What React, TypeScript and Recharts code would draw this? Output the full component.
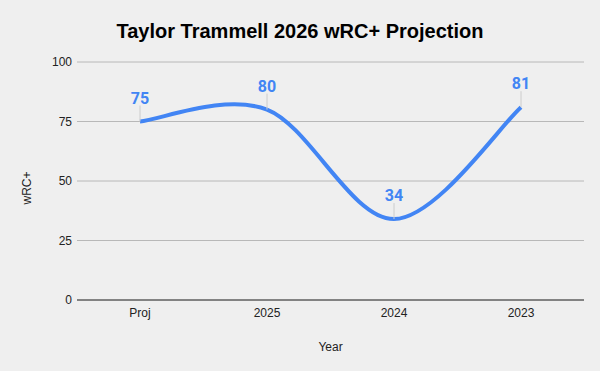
import React from 'react';
import { LineChart, Line, XAxis, YAxis, CartesianGrid } from 'recharts';

const categories = ['Proj', '2025', '2024', '2023'];
const wrcValues = [75, 80, 34, 81];
const yTicks = [0, 25, 50, 75, 100];

const data = categories.map((year, i) => ({ year, wrc: wrcValues[i] }));

const BLUE = '#4285f4';

// Cardinal (Catmull-Rom, tension 0) curve factory, similar to Google Sheets smoothing
const cardinalCurve = (context: any) => {
  let pts: number[][] = [];
  return {
    areaStart() {},
    areaEnd() {},
    lineStart() {
      pts = [];
    },
    point(x: number, y: number) {
      pts.push([+x, +y]);
    },
    lineEnd() {
      if (!pts.length) return;
      context.moveTo(pts[0][0], pts[0][1]);
      for (let i = 0; i < pts.length - 1; i++) {
        const p0 = pts[i - 1] || pts[i];
        const p1 = pts[i];
        const p2 = pts[i + 1];
        const p3 = pts[i + 2] || pts[i + 1];
        const c1x = p1[0] + (p2[0] - p0[0]) / 6;
        const c1y = p1[1] + (p2[1] - p0[1]) / 6;
        const c2x = p2[0] - (p3[0] - p1[0]) / 6;
        const c2y = p2[1] - (p3[1] - p1[1]) / 6;
        context.bezierCurveTo(c1x, c1y, c2x, c2y, p2[0], p2[1]);
      }
    },
  };
};

const PointLabel = (props: any) => {
  const { x, y, value } = props;
  return (
    <g>
      <line x1={x} y1={y - 16} x2={x} y2={y} stroke="#cccccc" strokeWidth={1} />
      <text
        x={x}
        y={y - 18}
        textAnchor="middle"
        fill={BLUE}
        fontFamily="Roboto, sans-serif"
        fontWeight="bold"
        fontSize={16}
      >
        {value}
      </text>
    </g>
  );
};

export default function App() {
  return (
    <div style={{ position: 'absolute', left: 0, top: 0, width: 600, height: 371, background: '#efefef' }}>
      <div
        style={{
          position: 'absolute',
          left: 0,
          top: 18,
          width: 600,
          textAlign: 'center',
          fontFamily: '"Liberation Sans", Arial, sans-serif',
          fontWeight: 'bold',
          fontSize: 20,
          lineHeight: '26px',
          color: '#000',
        }}
      >
        Taylor Trammell 2026 wRC+ Projection
      </div>
      <LineChart
        width={600}
        height={371}
        data={data}
        margin={{ top: 62, right: 16, bottom: 0, left: 0 }}
        style={{ position: 'absolute', left: 0, top: 0 }}
      >
        <CartesianGrid vertical={false} stroke="#b8b8b8" />
        <XAxis
          dataKey="year"
          height={71}
          padding={{ left: 63, right: 63 }}
          tickSize={0}
          tickMargin={8}
          axisLine={{ stroke: '#333333', strokeWidth: 1 }}
          tickLine={false}
          tick={{ fill: '#222222', fontSize: 12, fontFamily: '"Liberation Sans", Arial, sans-serif' }}
          label={(p: any) => (
            <text
              x={330.5}
              y={351}
              textAnchor="middle"
              fill="#222222"
              fontSize={12}
              fontFamily='"Liberation Sans", Arial, sans-serif'
            >
              Year
            </text>
          )}
        />
        <YAxis
          width={77}
          domain={[0, 100]}
          ticks={yTicks}
          tickSize={0}
          tickMargin={5}
          axisLine={false}
          tickLine={false}
          tick={{ fill: '#222222', fontSize: 12, fontFamily: '"Liberation Sans", Arial, sans-serif' }}
          label={(p: any) => (
            <text
              x={31}
              y={188}
              transform="rotate(-90 31 188)"
              textAnchor="middle"
              fill="#222222"
              fontSize={12}
              fontFamily='"Liberation Sans", Arial, sans-serif'
            >
              wRC+
            </text>
          )}
        />
        <Line
          dataKey="wrc"
          type={cardinalCurve as any}
          stroke={BLUE}
          strokeWidth={4}
          dot={false}
          activeDot={false}
          isAnimationActive={false}
          label={<PointLabel />}
        />
      </LineChart>
    </div>
  );
}
